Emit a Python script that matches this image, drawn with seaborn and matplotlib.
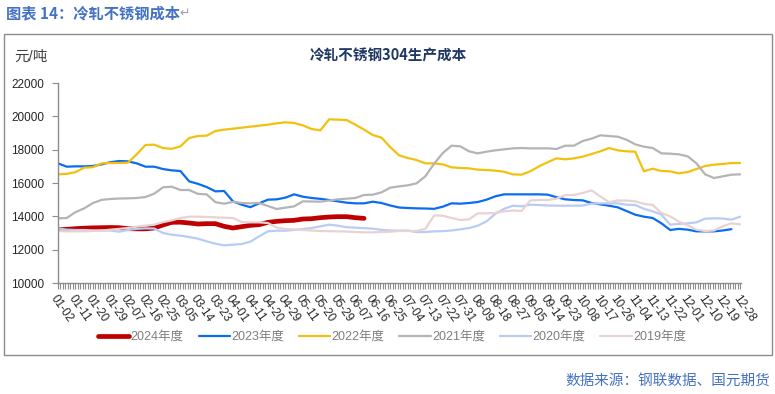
import numpy as np
import matplotlib
matplotlib.use("Agg")
import matplotlib.pyplot as plt
import seaborn as sns
from matplotlib.patches import Rectangle
from matplotlib.ticker import MultipleLocator

# x-axis labels (one every 7 trading days); series sampled every half label step
tick_labels = ["01-02", "01-11", "01-20", "01-29", "02-07", "02-16", "02-25", "03-05",
               "03-14", "03-23", "04-01", "04-11", "04-20", "04-29", "05-11", "05-20",
               "05-29", "06-07", "06-16", "06-25", "07-04", "07-13", "07-22", "07-31",
               "08-09", "08-18", "08-27", "09-05", "09-14", "09-23", "10-08", "10-17",
               "10-26", "11-04", "11-13", "11-22", "12-01", "12-10", "12-19", "12-28"]

cost_2024 = [13200, 13220, 13260, 13290, 13310, 13320, 13330, 13320, 13260, 13250,
             13250, 13300, 13480, 13640, 13650, 13600, 13540, 13560, 13560, 13400,
             13300, 13380, 13460, 13500, 13640, 13700, 13740, 13760, 13840, 13860,
             13920, 13960, 13980, 13980, 13920, 13880]

cost_2023 = [17180, 16980, 17000, 17000, 17020, 17120, 17250, 17320, 17300, 17180,
             16980, 16980, 16840, 16760, 16720, 16100, 15950, 15760, 15500, 15520,
             14900, 14700, 14550, 14780, 15000, 15020, 15120, 15320, 15180, 15100,
             15050, 14980, 14900, 14820, 14780, 14780, 14880, 14800, 14650, 14530,
             14500, 14480, 14470, 14450, 14580, 14780, 14760, 14800, 14860, 15000,
             15200, 15320, 15320, 15320, 15320, 15320, 15300, 15150, 15020, 14980,
             14960, 14800, 14720, 14640, 14540, 14320, 14100, 13980, 13900, 13580,
             13180, 13250, 13200, 13100, 13100, 13100, 13150, 13230]

cost_2022 = [16520, 16550, 16650, 16920, 16950, 17180, 17200, 17200, 17220, 17720,
             18280, 18300, 18100, 18050, 18200, 18700, 18820, 18840, 19120, 19200,
             19260, 19320, 19380, 19440, 19500, 19580, 19640, 19600, 19460, 19240,
             19160, 19820, 19800, 19780, 19500, 19200, 18880, 18720, 18150, 17660,
             17500, 17380, 17180, 17180, 17120, 16940, 16900, 16880, 16800, 16780,
             16740, 16680, 16520, 16500, 16700, 17000, 17250, 17480, 17420, 17480,
             17580, 17740, 17900, 18100, 17960, 17900, 17880, 16700, 16860, 16720,
             16700, 16580, 16660, 16840, 17020, 17100, 17140, 17200, 17200]

cost_2021 = [13880, 13900, 14250, 14480, 14800, 14990, 15040, 15070, 15080, 15100,
             15160, 15360, 15740, 15780, 15580, 15580, 15350, 15320, 14850, 14760,
             14870, 14800, 14780, 14800, 14620, 14440, 14520, 14600, 14900, 14890,
             14880, 14950, 15020, 15060, 15100, 15280, 15300, 15440, 15720, 15800,
             15860, 15980, 16400, 17150, 17800, 18240, 18200, 17900, 17780, 17880,
             17960, 18020, 18080, 18100, 18080, 18080, 18080, 18040, 18240, 18240,
             18520, 18660, 18860, 18820, 18780, 18600, 18320, 18180, 18100, 17780,
             17760, 17720, 17600, 17180, 16520, 16300, 16400, 16500, 16520]

cost_2020 = [13280, 13200, 13180, 13180, 13160, 13150, 13150, 13080, 13180, 13250,
             13280, 13270, 13000, 12900, 12840, 12760, 12660, 12500, 12360, 12260,
             12300, 12340, 12480, 12800, 13100, 13140, 13140, 13180, 13240, 13300,
             13400, 13500, 13440, 13350, 13320, 13290, 13260, 13190, 13150, 13140,
             13150, 13050, 13060, 13100, 13110, 13150, 13220, 13300, 13440, 13700,
             14150, 14450, 14640, 14600, 14700, 14680, 14650, 14640, 14640, 14640,
             14650, 14760, 14780, 14780, 14780, 14700, 14680, 14450, 14300, 14100,
             13500, 13550, 13580, 13640, 13860, 13880, 13870, 13800, 13980]

cost_2019 = [13120, 13100, 13100, 13100, 13120, 13150, 13200, 13250, 13300, 13380,
             13440, 13500, 13650, 13760, 13900, 13980, 13980, 13960, 13940, 13920,
             13900, 13660, 13640, 13640, 13600, 13330, 13240, 13220, 13180, 13150,
             13120, 13110, 13100, 13090, 13060, 13040, 13040, 13060, 13080, 13120,
             13120, 13120, 13250, 14050, 14040, 13900, 13780, 13820, 14180, 14180,
             14200, 14300, 14350, 14320, 14950, 14980, 14980, 15060, 15280, 15280,
             15400, 15560, 15200, 14850, 14950, 14950, 14900, 14750, 14680, 14200,
             14000, 13680, 13460, 13200, 13120, 13150, 13400, 13580, 13520]

series_names = ["2024年度", "2023年度", "2022年度", "2021年度", "2020年度", "2019年度"]
series_values = [cost_2024, cost_2023, cost_2022, cost_2021, cost_2020, cost_2019]
colors = ["#C00000", "#0A6CF0", "#F2C10F", "#B4B4B4", "#B8CCF4", "#E8D2D2"]
widths = [3.4, 1.6, 1.6, 1.6, 1.6, 1.6]

sns.set_theme(style="white")
plt.rcParams['font.family'] = ['Liberation Sans', 'Noto Sans CJK SC', 'DejaVu Sans']

fig = plt.figure(figsize=(7.75, 3.94), dpi=100)
ax = fig.add_axes([0.0748, 0.2817, 0.8807, 0.5076])

for name, vals, color, lw in zip(series_names, series_values, colors, widths):
    x = np.arange(len(vals)) / 2
    sns.lineplot(x=x, y=vals, ax=ax, color=color, linewidth=lw, label=name,
                 estimator=None, sort=False)

ax.set_xlim(0, 39.02)
ax.set_ylim(10000, 22000)
ax.set_yticks(range(10000, 22001, 2000))
ax.set_xticks(range(len(tick_labels)))
ax.set_xticklabels(tick_labels, rotation=-55, ha='left', va='top',
                   rotation_mode='anchor', fontsize=8.5, color='#262626')
ax.xaxis.set_minor_locator(MultipleLocator(1 / 7))
ax.tick_params(axis='x', which='both', bottom=True, direction='out', length=4,
               width=0.8, color='#8C8C8C', pad=3)
ax.tick_params(axis='y', left=True, direction='out', length=4, width=0.8,
               color='#8C8C8C', labelsize=8.5, labelcolor='#262626', pad=6)
ax.set_xlabel("")
ax.set_ylabel("")
for side in ['top', 'right']:
    ax.spines[side].set_visible(False)
for side in ['left', 'bottom']:
    ax.spines[side].set_color('#8C8C8C')
    ax.spines[side].set_linewidth(1.0)

ax.legend(loc='center', bbox_to_anchor=(392 / 775, 1 - 337 / 394),
          bbox_transform=fig.transFigure, ncol=6, frameon=False, fontsize=9,
          handlelength=2.5, handletextpad=0.1, columnspacing=1.2,
          labelcolor='#7F7F7F')

# outer frame
fig.patches.append(Rectangle((4 / 775, 1 - 355 / 394), 768 / 775, 321 / 394,
                             transform=fig.transFigure, fill=False,
                             edgecolor='#8C8C8C', linewidth=1.0))

fig.text(6 / 775, 1 - 13 / 394, "图表 14：冷轧不锈钢成本", fontsize=11,
         fontweight='bold', color='#4472C4', ha='left', va='center',
         family=['Noto Sans CJK SC', 'DejaVu Sans'])
fig.text(179 / 775, 1 - 13 / 394, "↵", fontsize=9, color='#A0A0A0',
         ha='left', va='center', family=['DejaVu Sans'])
fig.text(31 / 775, 1 - 57 / 394, "元/吨", fontsize=10.5, color='#404040',
         ha='center', va='center')
fig.text(388 / 775, 1 - 56 / 394, "冷轧不锈钢304生产成本", fontsize=10.5,
         fontweight='bold', color='#1F3864', ha='center', va='center',
         family=['Noto Sans CJK SC', 'DejaVu Sans'])
fig.text(770 / 775, 1 - 381 / 394, "数据来源：钢联数据、国元期货", fontsize=10.5,
         color='#4472C4', ha='right', va='center',
         family=['Noto Sans CJK SC', 'DejaVu Sans'])

fig.savefig("out.png", dpi=100, facecolor='white')
